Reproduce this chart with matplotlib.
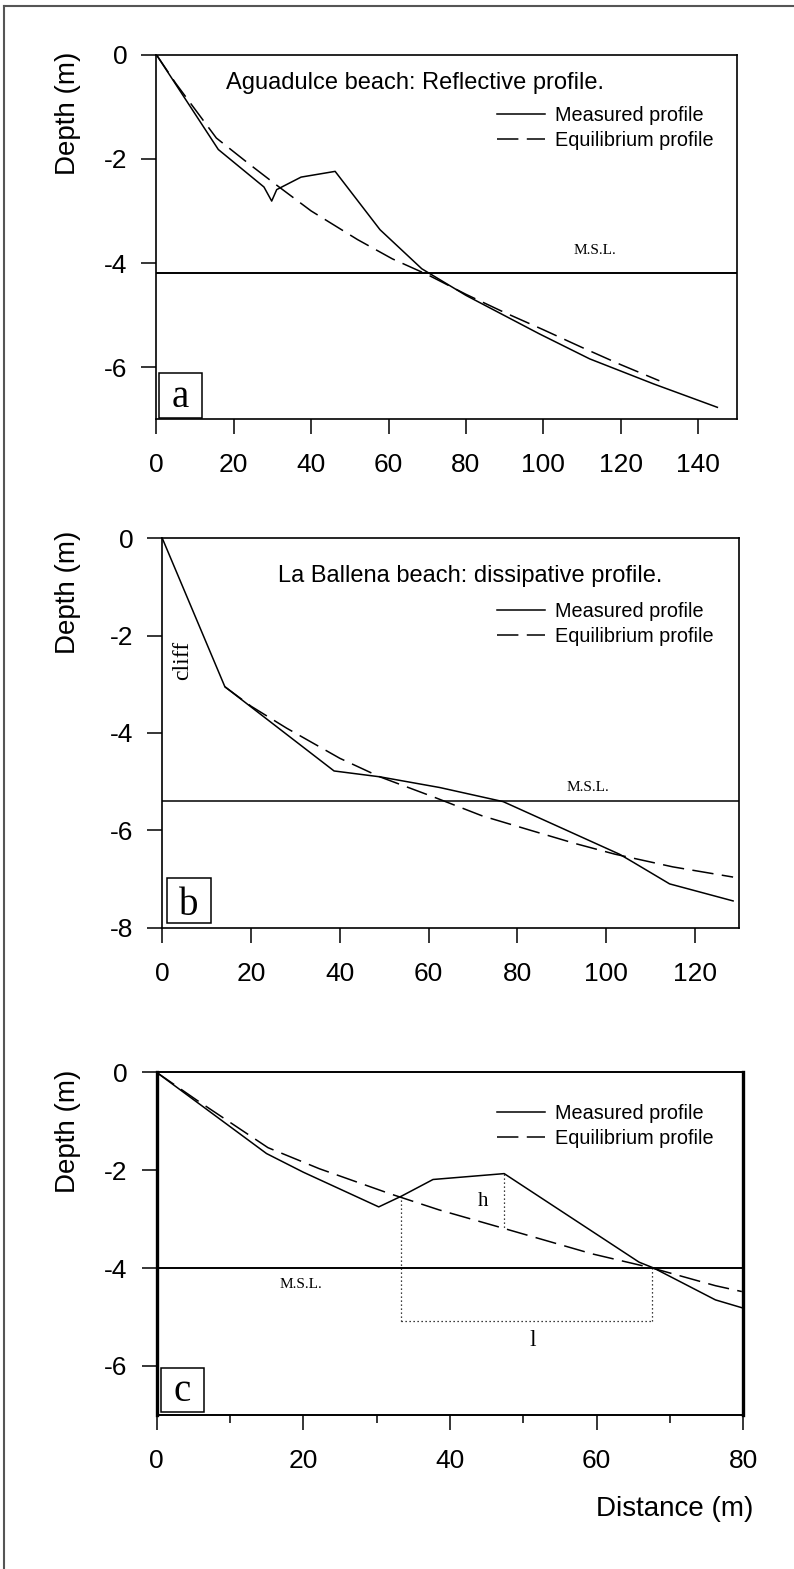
import matplotlib
matplotlib.use("Agg")
import matplotlib.pyplot as plt
from matplotlib.lines import Line2D
from matplotlib.patches import Rectangle
from matplotlib.ticker import MultipleLocator, FixedLocator

# Panel a: Aguadulce beach (reflective)
a_meas_x = [0, 16, 27.8, 29.8, 31.1, 37.4, 46.2, 57.8, 68.6, 80, 99, 112, 128.5, 145]
a_meas_y = [0, -1.82, -2.54, -2.81, -2.59, -2.35, -2.24, -3.36, -4.11, -4.62, -5.36, -5.84, -6.32, -6.77]
a_eq_x = [0, 5, 9.5, 15.5, 24, 31, 40, 52, 61, 70, 80, 90, 100, 110, 120, 130]
a_eq_y = [0, -0.55, -1.0, -1.6, -2.1, -2.5, -3.0, -3.55, -3.92, -4.22, -4.6, -4.95, -5.28, -5.62, -5.95, -6.26]
a_msl = -4.2

# Panel b: La Ballena beach (dissipative)
b_meas_x = [0, 14.1, 38.7, 49, 62.5, 76.8, 103, 106, 114.3, 128.6]
b_meas_y = [0, -3.05, -4.78, -4.9, -5.12, -5.41, -6.49, -6.65, -7.1, -7.45]
b_eq_x = [14.1, 20, 28, 40, 49, 61, 72, 83, 93, 102, 115, 128.6]
b_eq_y = [-3.05, -3.45, -3.9, -4.52, -4.9, -5.31, -5.7, -6.0, -6.27, -6.49, -6.75, -6.96]
b_msl = -5.4

# Panel c
c_meas_x = [0, 15, 20, 30.3, 33.4, 37.7, 47.4, 65.8, 67.8, 76.2, 79.8]
c_meas_y = [0, -1.66, -2.04, -2.75, -2.53, -2.19, -2.07, -3.88, -4.0, -4.65, -4.81]
c_eq_x = [0, 5.5, 15.2, 22.2, 31.8, 38.5, 47.6, 59.4, 67.6, 76.2, 79.8]
c_eq_y = [0, -0.57, -1.54, -1.97, -2.48, -2.81, -3.2, -3.71, -4.0, -4.36, -4.48]
c_msl = -4.0
# bar geometry (h and l)
bar_x0, bar_x1, bar_base = 33.4, 67.5, -5.08
h_x, h_top, h_bot = 47.4, -2.07, -3.2

W, H = 794, 1569
SANS = ["Liberation Sans", "DejaVu Sans"]
SERIF = ["Liberation Serif", "DejaVu Serif"]
plt.rcParams["font.family"] = SANS

fig = plt.figure(figsize=(W / 100, H / 100), dpi=100)


def box(l, t, r, b):
    return [l / W, 1 - b / H, (r - l) / W, (b - t) / H]


def fx(x):
    return x / W


def fy(y):
    return 1 - y / H


DASH = (0, (14, 5.5))


def make_axes(rect, xlim, ylim, xticks, yticks, spine_lw=1.2):
    ax = fig.add_axes(rect)
    ax.set_xlim(*xlim)
    ax.set_ylim(*ylim)
    ax.xaxis.set_major_locator(FixedLocator(xticks))
    ax.yaxis.set_major_locator(FixedLocator(yticks))
    ax.set_xticklabels([f"{t:g}" for t in xticks])
    ax.set_yticklabels([f"{t:g}" for t in yticks])
    ax.tick_params(direction="out", length=11, width=1.1, labelsize=19, colors="black")
    ax.tick_params(axis="x", pad=13.5)
    ax.tick_params(axis="y", pad=10)
    for s in ax.spines.values():
        s.set_linewidth(spine_lw)
    return ax


def profiles(ax, mx, my, ex, ey, legend_top):
    ax.plot(mx, my, color="black", lw=1.1, label="Measured profile")
    ax.plot(ex, ey, color="black", lw=1.1, linestyle=DASH, label="Equilibrium profile")
    ax.legend(loc="upper left", bbox_to_anchor=(fx(497), fy(legend_top)),
              bbox_transform=fig.transFigure, frameon=False, borderpad=0,
              borderaxespad=0, handlelength=2.4, handletextpad=0.5,
              labelspacing=0.3, fontsize=14.3)


def letter_box(l, t, r, b, letter, baseline):
    fig.add_artist(Rectangle((fx(l), fy(b)), (r - l) / W, (b - t) / H,
                             transform=fig.transFigure, fill=False,
                             edgecolor="black", lw=1.1))
    fig.text(fx((l + r) / 2), fy(baseline), letter, family=SERIF, fontsize=28,
             ha="center", va="baseline")


def depth_label(yc):
    fig.text(fx(68), fy(yc), "Depth (m)", rotation=90, fontsize=20,
             ha="center", va="center")


# ---- panel a
ax_a = make_axes(box(156.4, 54.7, 736.7, 419.3), (0, 150), (-7, 0),
                 [0, 20, 40, 60, 80, 100, 120, 140], [0, -2, -4, -6])
ax_a.axhline(a_msl, color="black", lw=1.4)
profiles(ax_a, a_meas_x, a_meas_y, a_eq_x, a_eq_y, 106)
ax_a.text(113.4, -3.76, "M.S.L.", family=SERIF, fontsize=11, ha="center", va="center")
fig.text(fx(226), fy(89), "Aguadulce beach: Reflective profile.", fontsize=17,
         ha="left", va="baseline")
letter_box(158.5, 373, 202, 418, "a", 407)
depth_label(113)

# ---- panel b
ax_b = make_axes(box(162.3, 538.3, 739.3, 927.7), (0, 130), (-8, 0),
                 [0, 20, 40, 60, 80, 100, 120], [0, -2, -4, -6, -8])
ax_b.axhline(b_msl, color="black", lw=1.1)
profiles(ax_b, b_meas_x, b_meas_y, b_eq_x, b_eq_y, 602)
ax_b.text(95.8, -5.11, "M.S.L.", family=SERIF, fontsize=11, ha="center", va="center")
ax_b.text(4.55, -2.5, "cliff", family=SERIF, fontsize=17, rotation=90,
          ha="center", va="center")
fig.text(fx(278.3), fy(581.7), "La Ballena beach: dissipative profile.", fontsize=17,
         ha="left", va="baseline")
letter_box(166.7, 878, 211, 922.7, "b", 915)
depth_label(592)

# ---- panel c
ax_c = make_axes(box(156.5, 1072.3, 743.3, 1414.9), (0, 80), (-7, 0),
                 [0, 20, 40, 60, 80], [0, -2, -4, -6], spine_lw=1.4)
ax_c.spines["left"].set_linewidth(2.4)
ax_c.spines["right"].set_linewidth(2.4)
ax_c.xaxis.set_minor_locator(MultipleLocator(10))
ax_c.tick_params(axis="x", which="minor", direction="out", length=5.8, width=1.1)
ax_c.axhline(c_msl, color="black", lw=1.4)
profiles(ax_c, c_meas_x, c_meas_y, c_eq_x, c_eq_y, 1104)
dot = dict(color="black", lw=0.9, linestyle=(0, (1, 2.2)))
ax_c.plot([bar_x0, bar_x0], [c_meas_y[4], bar_base], **dot)
ax_c.plot([bar_x0, bar_x1], [bar_base, bar_base], **dot)
ax_c.plot([bar_x1, bar_x1], [bar_base, c_msl], **dot)
ax_c.plot([h_x, h_x], [h_top, h_bot], **dot)
ax_c.text(44.5, -2.65, "h", family=SERIF, fontsize=15, ha="center", va="center")
ax_c.text(51.3, -5.49, "l", family=SERIF, fontsize=17, ha="center", va="center")
ax_c.text(19.7, -4.34, "M.S.L.", family=SERIF, fontsize=11, ha="center", va="center")
letter_box(160.7, 1368, 204.3, 1412, "c", 1400.7)
depth_label(1131)
fig.text(fx(753), fy(1509), "Distance (m)", fontsize=20, ha="right", va="center")

# outer frame (top and left edges only)
fig.add_artist(Line2D([fx(4), fx(794)], [fy(5.7), fy(5.7)], color="#555555", lw=1.5))
fig.add_artist(Line2D([fx(4), fx(4)], [fy(5.7), 0], color="#555555", lw=1.5))

fig.savefig("out.png", dpi=100)
